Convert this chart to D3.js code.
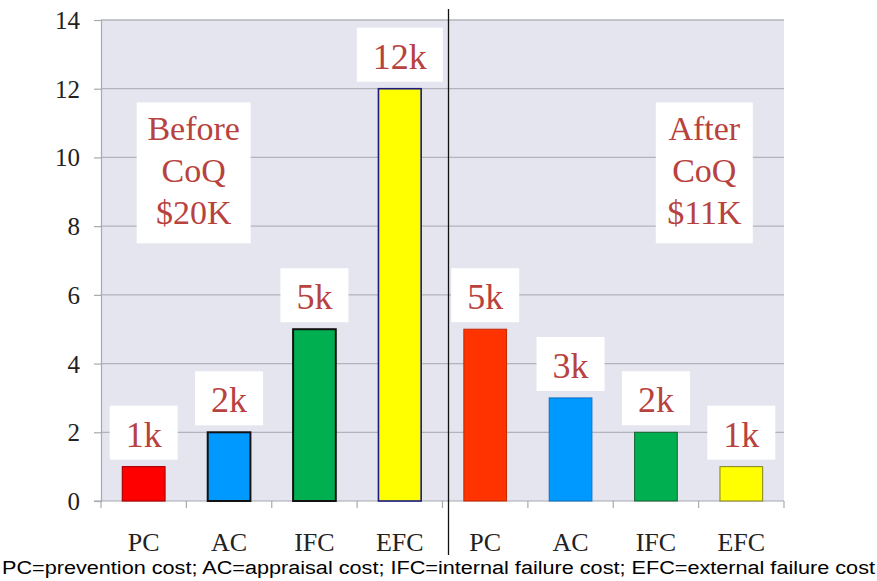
<!DOCTYPE html>
<html>
<head>
<meta charset="utf-8">
<script src="https://cdn.jsdelivr.net/npm/d3@7"></script>
<style>
  html, body { margin: 0; padding: 0; background: #ffffff; }
  svg { display: block; }
  .serif { font-family: "Liberation Serif", Tinos, "Times New Roman", serif; }
  .sans { font-family: "Liberation Sans", Arimo, Arial, sans-serif; }
</style>
</head>
<body>
<svg id="chart" width="877" height="581"></svg>
<script>
// Cost of quality breakdown, before and after (values in $k)
const categories = ["PC", "AC", "IFC", "EFC"];
const beforeValues = [1, 2, 5, 12];
const afterValues = [5, 3, 2, 1];
const yTicks = [0, 2, 4, 6, 8, 10, 12, 14];
const beforeTitle = ["Before", "CoQ", "$20K"];
const afterTitle = ["After", "CoQ", "$11K"];
const footnote = "PC=prevention cost; AC=appraisal cost; IFC=internal failure cost; EFC=external failure cost";

const fills = ["#ff0000", "#0099ff", "#00b050", "#ffff00", "#ff3300", "#0099ff", "#00b050", "#ffff00"];
const strokes = ["#b00000", "#111111", "#111111", "#1a1a80", "#c02800", "#1070c0", "#1a6030", "#808020"];
const strokeWidths = [1.2, 2, 2, 1.6, 1, 1, 1, 1];

const bars = categories.map((c, i) => ({ cat: c, value: beforeValues[i], idx: i }))
  .concat(categories.map((c, i) => ({ cat: c, value: afterValues[i], idx: i + 4 })));

const svg = d3.select("#chart");
const plotLeft = 101, plotRight = 784, plotTop = 20, plotBottom = 501;

const x = d3.scaleBand().domain(d3.range(bars.length)).range([plotLeft, plotRight])
  .paddingInner(0.5).paddingOuter(0.25);
const y = d3.scaleLinear().domain([0, 14]).range([plotBottom, plotTop]);

const labelRed = "#b8423e";

// plot background
svg.append("rect").attr("x", plotLeft).attr("y", plotTop)
  .attr("width", plotRight - plotLeft).attr("height", plotBottom - plotTop)
  .attr("fill", "#e5e5f0");

// horizontal gridlines
svg.append("g").selectAll("line").data(yTicks.filter(t => t > 0)).join("line")
  .attr("x1", plotLeft).attr("x2", plotRight)
  .attr("y1", d => y(d)).attr("y2", d => y(d))
  .attr("stroke", "#b3b3be").attr("stroke-width", 1.3);

// y axis
const yAxis = svg.append("g").attr("transform", `translate(${plotLeft},0)`)
  .call(d3.axisLeft(y).tickValues(yTicks).tickSize(7).tickPadding(14));
yAxis.attr("font-family", null).attr("font-size", null);
yAxis.select(".domain").attr("stroke", "#a8a8b0").attr("stroke-width", 1.2);
yAxis.selectAll(".tick line").attr("stroke", "#a8a8b0").attr("stroke-width", 1.2);
yAxis.selectAll(".tick text").attr("class", "serif").attr("fill", "#222")
  .style("font-size", "25px").attr("dy", "0.34em");

// x axis: baseline, boundary ticks and category names
const step = x.step();
svg.append("line").attr("x1", plotLeft - 7).attr("x2", plotRight)
  .attr("y1", plotBottom).attr("y2", plotBottom)
  .attr("stroke", "#a8a8b0").attr("stroke-width", 1.2);
svg.append("g").selectAll("line").data(d3.range(bars.length + 1)).join("line")
  .attr("x1", i => plotLeft + i * step).attr("x2", i => plotLeft + i * step)
  .attr("y1", plotBottom).attr("y2", plotBottom + 7)
  .attr("stroke", "#a8a8b0").attr("stroke-width", 1.2);
svg.append("g").selectAll("text").data(bars).join("text")
  .attr("class", "serif")
  .attr("x", d => x(d.idx) + x.bandwidth() / 2)
  .attr("y", 551)
  .attr("text-anchor", "middle")
  .style("font-size", "26px")
  .attr("fill", "#222")
  .text(d => d.cat);

// bars
svg.append("g").selectAll("rect").data(bars).join("rect")
  .attr("x", d => x(d.idx))
  .attr("y", d => y(d.value))
  .attr("width", x.bandwidth())
  .attr("height", d => y(0) - y(d.value))
  .attr("fill", d => fills[d.idx])
  .attr("stroke", d => strokes[d.idx])
  .attr("stroke-width", d => strokeWidths[d.idx]);

// value labels on white boxes above each bar
const labelG = svg.append("g");
bars.forEach(d => {
  const cx = x(d.idx) + x.bandwidth() / 2;
  const boxBottom = y(d.value) - 7;
  const boxH = 54;
  const g = labelG.append("g");
  const rect = g.append("rect").attr("fill", "#ffffff");
  const t = g.append("text")
    .attr("class", "serif")
    .attr("x", cx).attr("y", boxBottom - 13)
    .attr("text-anchor", "middle")
    .style("font-size", "36px")
    .attr("fill", labelRed)
    .text(d.value + "k");
  const w = t.node().getComputedTextLength() + 32;
  rect.attr("x", cx - w / 2).attr("y", boxBottom - boxH)
    .attr("width", w).attr("height", boxH);
});

// panel title boxes
function titleBox(lines, cx, w) {
  const g = svg.append("g");
  const yTop = y(11.6), yBot = y(7.5);
  g.append("rect").attr("x", cx - w / 2).attr("y", yTop)
    .attr("width", w).attr("height", yBot - yTop).attr("fill", "#ffffff");
  g.selectAll("text").data(lines).join("text")
    .attr("class", "serif")
    .attr("x", cx).attr("y", (d, i) => yTop + 38 + i * 42)
    .attr("text-anchor", "middle")
    .style("font-size", "34px")
    .attr("fill", labelRed)
    .text(d => d);
}
titleBox(beforeTitle, x(0) + x.bandwidth() / 2 + 50, 114);
titleBox(afterTitle, x(7) + x.bandwidth() / 2 - 37, 97);

// divider between the two panels
const divX = plotLeft + 4 * step + 6;
svg.append("line").attr("x1", divX).attr("x2", divX)
  .attr("y1", 9).attr("y2", 555)
  .attr("stroke", "#111").attr("stroke-width", 1.3);

// footnote
svg.append("text")
  .attr("class", "sans")
  .attr("x", 2).attr("y", 574)
  .style("font-size", "18px")
  .attr("textLength", 873).attr("lengthAdjust", "spacingAndGlyphs")
  .attr("fill", "#000")
  .text(footnote);
</script>
</body>
</html>
